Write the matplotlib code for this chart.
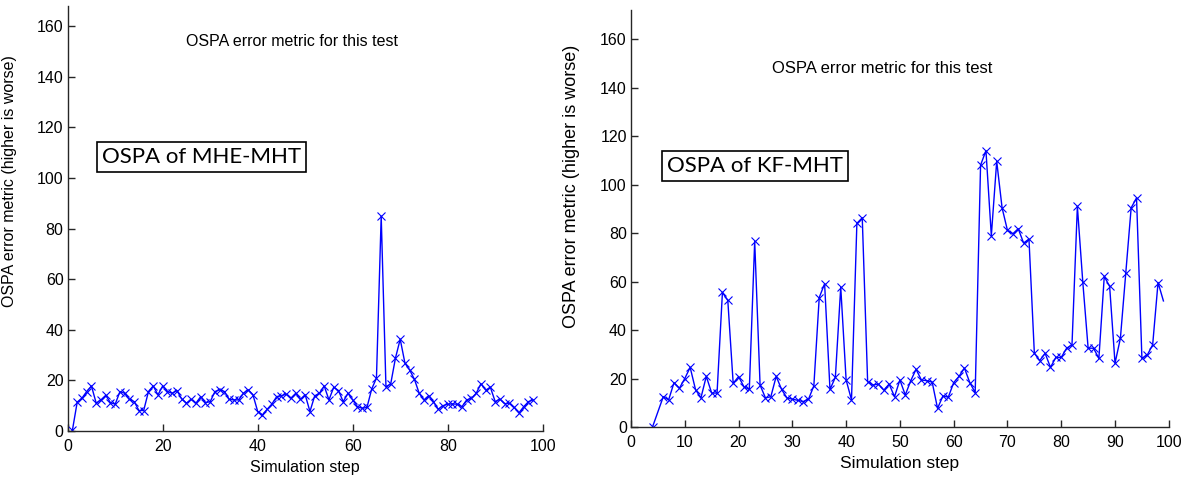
import numpy as np
import matplotlib.pyplot as plt

# OSPA of MHE-MHT (left)
steps_mhe = list(range(1, 99))
ospa_mhe = [0.4, 11.4, 13, 15.6, 17.8, 11, 12.3, 14.1, 11.2, 10.6,
            15.6, 14.9, 12.5, 11.6, 8.1, 8.1, 15.6, 17.8, 14.3, 17.8,
            15.6, 14.9, 16, 12.7, 11, 12.5, 11, 13.6, 11.2, 11.6,
            15.6, 16.3, 15.6, 12.5, 12.3, 12.3, 14.9, 16.3, 14.3, 7.7,
            6.4, 8.6, 10.7, 13.6, 13.9, 14.6, 13, 14.9, 12.5, 14.3,
            7.7, 13.9, 14.9, 17.8, 12.3, 17.3, 16, 11.6, 14.9, 12.3,
            9.6, 9, 9.3, 16.6, 20.9, 84.9, 17.5, 18.6, 28.8, 36.3,
            26.8, 24.1, 20.4, 14.9, 12.3, 14, 11.6, 8.6, 10, 10.6,
            10.7, 10.6, 9.6, 12.3, 12.9, 14.9, 18.7, 16.2, 17.2, 11.6,
            12.6, 10.8, 11, 9.3, 7.2, 9.6, 11.6, 12.3]

# OSPA of KF-MHT (right)
steps_kf = [4] + list(range(6, 100))
ospa_kf = [0, 12.5, 11.2, 18.3, 16, 20, 24.6, 15.4, 12, 20.9,
           14, 14, 55.5, 52.2, 18, 20.8, 16.6, 15.5, 76.6, 17.3,
           12, 12.5, 20.9, 15.5, 12, 11.5, 11, 10.5, 11.4, 17,
           53.4, 59.1, 15.5, 20.5, 57.7, 19.4, 11.2, 84, 86.3, 18.7,
           17.3, 17.7, 15.2, 17.7, 12.5, 19.4, 13.2, 19, 23.8, 19.4,
           19.1, 18.5, 7.7, 12.8, 12.3, 18.3, 20.9, 24.3, 18.3, 14.2,
           108, 114, 78.9, 109.6, 90.4, 81.1, 79.7, 81.8, 75.9, 77.5,
           30.4, 27.4, 30.4, 24.6, 28.7, 28.7, 32.5, 33.9, 91, 60,
           32.5, 32.5, 28.3, 62.1, 58, 26.3, 36.6, 63.5, 90.4, 94.5,
           28.3, 29.7, 33.9, 59.6, 52]

yticks = [0, 20, 40, 60, 80, 100, 120, 140, 160]
title_txt = "OSPA error metric for this test"
ylab = "OSPA error metric (higher is worse)"
xlab = "Simulation step"

plt.rcParams['font.family'] = ['Liberation Sans', 'DejaVu Sans']

fig = plt.figure(figsize=(11.87, 4.8), dpi=100)
W, H = 1187, 480


def make_axes(x0, x1, ybot, ytop):
    return fig.add_axes([x0 / W, 1 - ybot / H, (x1 - x0) / W, (ybot - ytop) / H])


ax1 = make_axes(67.7, 542.7, 431, 6)
ax2 = make_axes(631, 1168.8, 427, 10)

for ax, ymax in [(ax1, 168), (ax2, 172)]:
    ax.set_xlim(0, 100)
    ax.set_ylim(0, ymax)
    ax.set_yticks(yticks)
    ax.spines['top'].set_visible(False)
    ax.spines['right'].set_visible(False)
    for s in ['left', 'bottom']:
        ax.spines[s].set_color('#262626')
        ax.spines[s].set_linewidth(1.0)
    ax.tick_params(direction='in', length=5, width=1, colors='#262626',
                   labelsize=11.5, labelcolor='black', pad=3)
    ax.tick_params(axis='x', pad=6)

ax1.set_xticks([0, 20, 40, 60, 80, 100])
ax2.set_xticks(range(0, 101, 10))

ax1.plot(steps_mhe, ospa_mhe, color='#0000ff', lw=1.0, marker='x', ms=6, mew=0.8)
ax2.plot(steps_kf, ospa_kf, color='#0000ff', lw=1.0, marker='x', ms=6, mew=0.8,
         markevery=list(range(len(steps_kf) - 1)))

# titles placed inside the plot area
ax1.text(47.2, 153.8, title_txt, ha='center', va='center', fontsize=11.5)
ax2.text(46.7, 148, title_txt, ha='center', va='center', fontsize=12)

# labelled boxes
ax1.text(28.2, 108.4, "OSPA of MHE-MHT", ha='center', va='center', fontsize=16,
         family=['Lato', 'DejaVu Sans'],
         bbox=dict(boxstyle='square,pad=0.22', fc='white', ec='black', lw=1.2))
ax2.text(23, 107.6, "OSPA of KF-MHT", ha='center', va='center', fontsize=16,
         family=['Lato', 'DejaVu Sans'],
         bbox=dict(boxstyle='square,pad=0.22', fc='white', ec='black', lw=1.2))

ax1.set_ylabel(ylab, fontsize=11.5)
ax1.yaxis.set_label_coords(-0.107, 0.588)
ax2.set_ylabel(ylab, fontsize=13)
ax2.yaxis.set_label_coords(-0.095, 0.576)

ax1.set_xlabel(xlab, fontsize=11.5, labelpad=4)
ax2.set_xlabel(xlab, fontsize=12.5, labelpad=4)

fig.savefig("out.png", dpi=100)
